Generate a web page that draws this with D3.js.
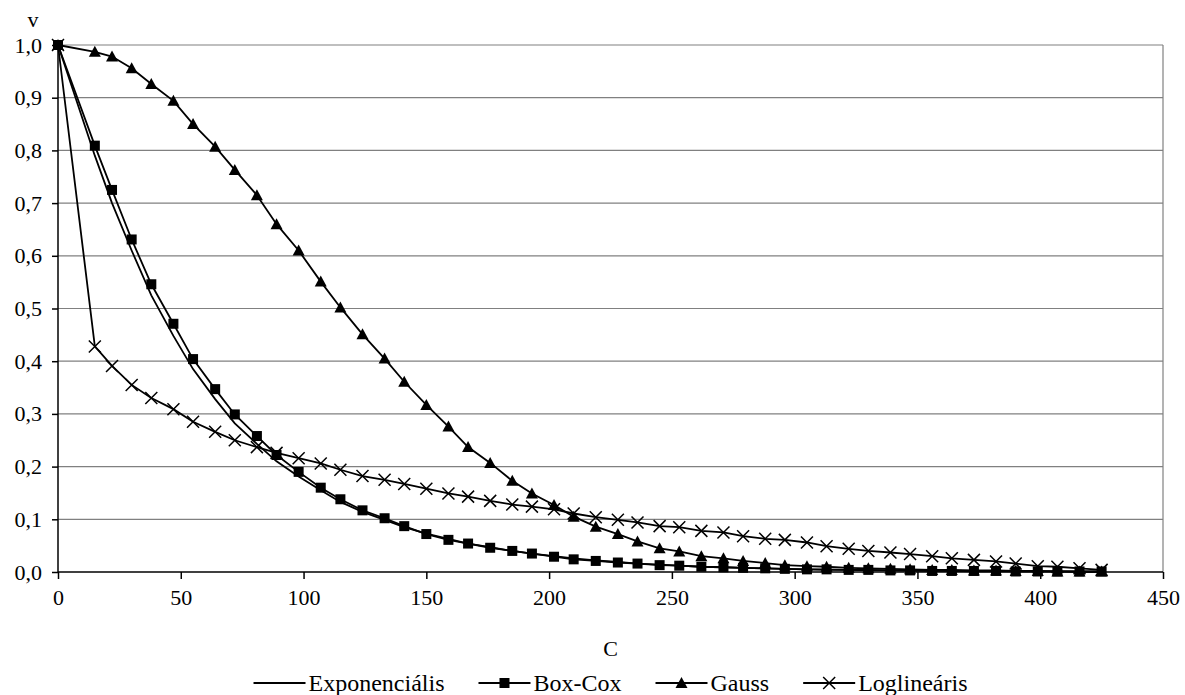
<!DOCTYPE html>
<html>
<head>
<meta charset="utf-8">
<script src="https://cdn.jsdelivr.net/npm/d3@7"></script>
<style>
  body { margin: 0; background: #fff; }
  svg text { font-family: "Liberation Serif", "Times New Roman", serif; fill: #000; }
</style>
</head>
<body>
<svg id="chart" width="1185" height="695"></svg>
<script>
// C values (x) shared by every series
var cValues = [0, 15, 22, 30, 38, 47, 55, 64, 72, 81, 89, 98, 107, 115, 124, 133, 141, 150, 159, 167,
               176, 185, 193, 202, 210, 219, 228, 236, 245, 253, 262, 271, 279, 288, 296, 305, 313, 322, 330, 339,
               347, 356, 364, 373, 382, 390, 399, 407, 416, 425];

var expValues = [1.0, 0.79, 0.70, 0.61, 0.525, 0.448, 0.385, 0.328, 0.282, 0.243, 0.210, 0.181, 0.155, 0.133, 0.114, 0.099, 0.085, 0.073, 0.063, 0.054,
                 0.047, 0.040, 0.035, 0.030, 0.026, 0.022, 0.019, 0.016, 0.014, 0.012, 0.010, 0.009, 0.008, 0.007, 0.006, 0.005, 0.004, 0.004, 0.003, 0.003,
                 0.002, 0.002, 0.002, 0.001, 0.001, 0.001, 0.001, 0.001, 0.0, 0.0];

var boxcoxValues = [1.0, 0.809, 0.725, 0.631, 0.546, 0.471, 0.404, 0.347, 0.299, 0.258, 0.222, 0.190, 0.160, 0.138, 0.117, 0.102, 0.087, 0.072, 0.061, 0.054,
                    0.046, 0.040, 0.035, 0.029, 0.024, 0.021, 0.018, 0.016, 0.013, 0.012, 0.010, 0.009, 0.008, 0.007, 0.006, 0.005, 0.005, 0.004, 0.004, 0.003,
                    0.003, 0.002, 0.002, 0.002, 0.002, 0.001, 0.001, 0.001, 0.001, 0.001];

var gaussValues = [1.0, 0.987, 0.978, 0.956, 0.926, 0.894, 0.850, 0.807, 0.763, 0.715, 0.660, 0.610, 0.551, 0.502, 0.451, 0.405, 0.361, 0.317, 0.276, 0.237,
                   0.207, 0.173, 0.149, 0.127, 0.105, 0.086, 0.072, 0.058, 0.045, 0.039, 0.030, 0.026, 0.021, 0.017, 0.013, 0.011, 0.010, 0.008, 0.007, 0.006,
                   0.005, 0.004, 0.004, 0.003, 0.003, 0.002, 0.002, 0.001, 0.001, 0.001];

var loglinValues = [1.0, 0.428, 0.391, 0.355, 0.330, 0.309, 0.285, 0.266, 0.250, 0.237, 0.226, 0.216, 0.206, 0.194, 0.182, 0.175, 0.167, 0.158, 0.149, 0.143,
                    0.135, 0.128, 0.124, 0.119, 0.111, 0.104, 0.099, 0.094, 0.087, 0.085, 0.078, 0.075, 0.068, 0.063, 0.061, 0.056, 0.049, 0.044, 0.040, 0.037,
                    0.034, 0.030, 0.026, 0.023, 0.020, 0.016, 0.011, 0.010, 0.007, 0.004];

var seriesNames = ["Exponenciális", "Box-Cox", "Gauss", "Loglineáris"];
var seriesMarkers = ["none", "square", "triangle", "cross"];

var xTicks = [0, 50, 100, 150, 200, 250, 300, 350, 400, 450];
var yTicks = [0, 0.1, 0.2, 0.3, 0.4, 0.5, 0.6, 0.7, 0.8, 0.9, 1.0];

var xTitle = "C";
var yTitle = "v";

/////////////////////////////////////////////////////////////////////////////
var svg = d3.select("#chart");
var plotLeft = 58, plotRight = 1163, plotTop = 45, plotBottom = 572;

var xScale = d3.scaleLinear().domain([0, 450]).range([plotLeft, plotRight]);
var yScale = d3.scaleLinear().domain([0, 1]).range([plotBottom, plotTop]);

var huFormat = d3.formatLocale({decimal: ",", thousands: " ", grouping: [3], currency: ["", " Ft"]}).format(".1f");

var allSeries = [expValues, boxcoxValues, gaussValues, loglinValues].map(function(vals, i) {
  return {
    name: seriesNames[i],
    marker: seriesMarkers[i],
    points: cValues.map(function(c, j) { return {c: c, v: vals[j]}; })
  };
});

// gridlines
svg.selectAll("gridlines")
    .data(yTicks.slice(1))
    .enter()
    .append("line")
    .attr("x1", plotLeft)
    .attr("x2", plotRight)
    .attr("y1", function(d) { return yScale(d); })
    .attr("y2", function(d) { return yScale(d); })
    .style("stroke", "#808080")
    .style("stroke-width", 1.2);

svg.append("line")
    .attr("x1", plotRight)
    .attr("x2", plotRight)
    .attr("y1", plotTop)
    .attr("y2", plotBottom)
    .style("stroke", "#808080")
    .style("stroke-width", 1.2);

// axes
var xAxis = d3.axisBottom(xScale).tickValues(xTicks).tickSize(7).tickPadding(10).tickFormat(d3.format("d"));
var yAxis = d3.axisLeft(yScale).tickValues(yTicks).tickSize(6).tickPadding(10).tickFormat(huFormat);

svg.append("g")
    .attr("transform", "translate(0," + plotBottom + ")")
    .call(xAxis)
    .call(function(g) {
      g.select(".domain").attr("d", "M" + plotLeft + ",0H" + plotRight).style("stroke", "#000").style("stroke-width", 1.5);
      g.selectAll(".tick line").style("stroke", "#000").style("stroke-width", 1.5);
      g.selectAll("text").style("font-size", "22px").style("font-family", "Liberation Serif");
    });

svg.append("g")
    .attr("transform", "translate(" + plotLeft + ",0)")
    .call(yAxis)
    .call(function(g) {
      g.select(".domain").attr("d", "M0," + plotTop + "V" + plotBottom).style("stroke", "#000").style("stroke-width", 1.5);
      g.selectAll(".tick line").style("stroke", "#000").style("stroke-width", 1.5);
      g.selectAll("text").style("font-size", "22px").style("font-family", "Liberation Serif");
    });

svg.append("text")
    .text(yTitle)
    .attr("x", 33)
    .attr("y", 27)
    .style("font-size", "22px")
    .style("text-anchor", "middle");

svg.append("text")
    .text(xTitle)
    .attr("x", (plotLeft + plotRight) / 2)
    .attr("y", 656)
    .style("font-size", "22px")
    .style("text-anchor", "middle");

// lines
var line = d3.line()
    .x(function(d) { return xScale(d.c); })
    .y(function(d) { return yScale(d.v); });

svg.selectAll("series_lines")
    .data(allSeries)
    .enter()
    .append("path")
    .attr("d", function(d) { return line(d.points); })
    .style("fill", "none")
    .style("stroke", "#000")
    .style("stroke-width", 1.8);

// markers
function drawMarker(g, type, x, y) {
  if (type == "square") {
    g.append("rect").attr("x", x - 5).attr("y", y - 5).attr("width", 10).attr("height", 10).style("fill", "#000");
  }
  else if (type == "triangle") {
    g.append("path").attr("d", "M" + x + "," + (y - 6) + "L" + (x + 6) + "," + (y + 5) + "L" + (x - 6) + "," + (y + 5) + "Z").style("fill", "#000");
  }
  else if (type == "cross") {
    g.append("path").attr("d", "M" + (x - 6) + "," + (y - 6) + "L" + (x + 6) + "," + (y + 6) + "M" + (x + 6) + "," + (y - 6) + "L" + (x - 6) + "," + (y + 6))
      .style("stroke", "#000").style("stroke-width", 1.5).style("fill", "none");
  }
}

allSeries.forEach(function(s) {
  if (s.marker == "none") { return; }
  var g = svg.append("g").attr("class", "markers");
  s.points.forEach(function(p) {
    drawMarker(g, s.marker, xScale(p.c), yScale(p.v));
  });
});

// legend
var legendY = 683;
var legend = svg.append("g");
var legendX = 0;
allSeries.forEach(function(s, i) {
  var item = legend.append("g");
  item.append("line")
      .attr("x1", legendX)
      .attr("x2", legendX + 52)
      .attr("y1", legendY)
      .attr("y2", legendY)
      .style("stroke", "#000")
      .style("stroke-width", 1.8);
  drawMarker(item, s.marker, legendX + 26, legendY);
  var t = item.append("text")
      .text(s.name)
      .attr("x", legendX + 55)
      .attr("y", legendY + 8)
      .style("font-size", "24px");
  legendX += 55 + t.node().getComputedTextLength() + 34;
});
var legendW = legendX - 34;
legend.attr("transform", "translate(" + ((plotLeft + plotRight) / 2 - legendW / 2) + ",0)");
</script>
</body>
</html>
